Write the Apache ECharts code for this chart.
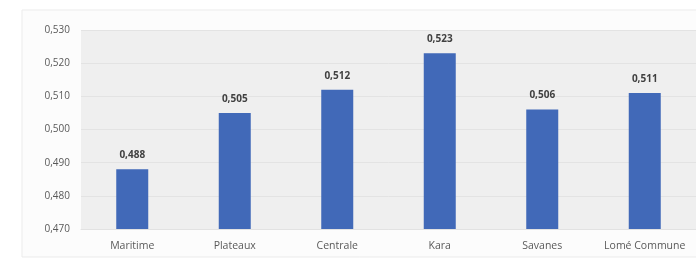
<!DOCTYPE html>
<html lang="fr">
<head>
    <meta charset="UTF-8">
    <title>Indice par région</title>
    <script src="https://cdn.jsdelivr.net/npm/echarts@6/dist/echarts.min.js"></script>
    <style>
        html, body { margin: 0; padding: 0; background: #ffffff; }
        #chart { width: 696px; height: 261px; }
    </style>
</head>
<body>
    <div id="chart"></div>
    <script>
        // Données
        const regions = ["Maritime", "Plateaux", "Centrale", "Kara", "Savanes", "Lomé Commune"];
        const valeurs = [0.488, 0.505, 0.512, 0.523, 0.506, 0.511];
        const yMin = 0.47, yMax = 0.53, yPas = 0.01;

        const fmt = v => v.toFixed(3).replace(".", ",");

        const chart = echarts.init(document.getElementById("chart"));
        chart.setOption({
            backgroundColor: "#ffffff",
            animation: false,
            textStyle: { fontFamily: "'Open Sans', Lato, sans-serif" },
            graphic: [{
                type: "rect",
                shape: { x: 22, y: 10, width: 690, height: 247 },
                style: { fill: "#fcfcfc", stroke: "#ebebeb", lineWidth: 1 },
                z: -10
            }],
            grid: {
                left: 81, right: -4, top: 30, bottom: 32,
                show: true, backgroundColor: "#efefef", borderWidth: 0
            },
            xAxis: {
                type: "category",
                data: regions,
                axisLine: { show: true, lineStyle: { color: "#e2e2e2" } },
                axisTick: { show: false },
                axisLabel: { color: "#595959", fontSize: 10.5, margin: 12, interval: 0, hideOverlap: false }
            },
            yAxis: {
                type: "value",
                min: yMin, max: yMax, interval: yPas,
                axisLine: { show: false },
                axisTick: { show: false },
                splitLine: { lineStyle: { color: "#e3e3e3", width: 1 } },
                axisLabel: { color: "#595959", fontSize: 10, margin: 11, formatter: fmt }
            },
            series: [{
                type: "bar",
                data: valeurs,
                barWidth: 32,
                itemStyle: { color: "#4169b8" },
                label: {
                    show: true, position: "top", distance: 9,
                    color: "#404040", fontSize: 10, fontWeight: "bold",
                    formatter: p => fmt(p.value)
                }
            }]
        });
    </script>
</body>
</html>
